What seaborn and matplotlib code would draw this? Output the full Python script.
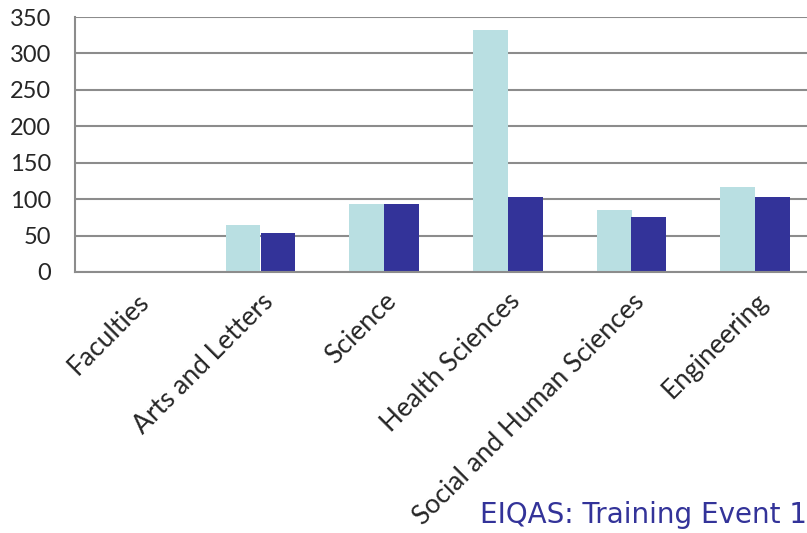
import matplotlib
matplotlib.use("Agg")
import matplotlib.pyplot as plt
import pandas as pd
import seaborn as sns

# categories on x axis (first one has no bars)
faculties = ["Faculties", "Arts and Letters", "Science", "Health Sciences",
             "Social and Human Sciences", "Engineering"]
# values
series_1 = [None, 64, 93, 332, 85, 116]
series_2 = [None, 53, 93, 103, 76, 103]
series_names = ["Series 1", "Series 2"]
y_ticks = [0, 50, 100, 150, 200, 250, 300, 350]

rows = []
for fac, a, b in zip(faculties, series_1, series_2):
    if a is not None:
        rows.append({"faculty": fac, "series": series_names[0], "count": a})
    if b is not None:
        rows.append({"faculty": fac, "series": series_names[1], "count": b})
df = pd.DataFrame(rows)

sns.set_style("white")
plt.rcParams["font.family"] = ["Lato", "DejaVu Sans"]

fig = plt.figure(figsize=(8.07, 5.33), dpi=100)
ax = fig.add_axes([75 / 807, 261 / 533, 742 / 807, 255 / 533])

sns.barplot(data=df, x="faculty", y="count", hue="series", order=faculties,
            hue_order=series_names, palette=["#B9DFE2", "#333399"],
            width=0.566, gap=0, saturation=1, legend=False, errorbar=None,
            linewidth=0, ax=ax)

ax.set_ylim(0, 350)
ax.set_yticks(y_ticks)
ax.set_xlim(-0.5, len(faculties) - 0.5)
ax.yaxis.grid(True, color="#8c8c8c", linewidth=1.5)
ax.set_axisbelow(True)
for s in ["top", "right"]:
    ax.spines[s].set_visible(False)
for s in ["left", "bottom"]:
    ax.spines[s].set_color("#8c8c8c")
    ax.spines[s].set_linewidth(1.5)

ax.set_xlabel("")
ax.set_ylabel("")
ax.tick_params(axis="y", length=0, pad=17, labelsize=17)
ax.tick_params(axis="x", length=0, pad=12, labelsize=19)
plt.setp(ax.get_xticklabels(), rotation=45, ha="right", rotation_mode="anchor")

fig.text(1.0, 0.018, "EIQAS: Training Event 1", color="#333399",
         fontsize=20, ha="right", va="baseline", family=["DejaVu Sans"])

fig.savefig("out.png", dpi=100)
